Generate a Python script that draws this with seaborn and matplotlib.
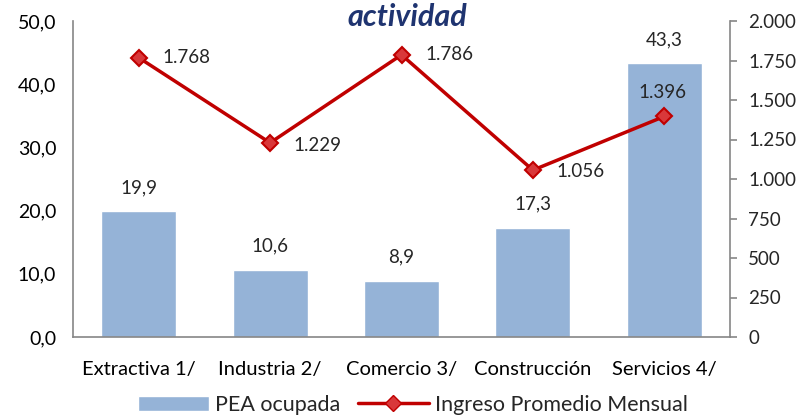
import numpy as np
import matplotlib
matplotlib.use("Agg")
import matplotlib.pyplot as plt
import seaborn as sns
from matplotlib.ticker import FuncFormatter
from matplotlib.patches import Patch
from matplotlib.lines import Line2D

categorias = ["Extractiva 1/", "Industria 2/", "Comercio 3/", "Construcción", "Servicios 4/"]
pea_ocupada = [19.9, 10.6, 8.9, 17.3, 43.3]
ingreso = [1768, 1229, 1786, 1056, 1396]

sns.set_theme(style="white")
plt.rcParams["font.family"] = ["Lato", "DejaVu Sans"]

fig = plt.figure(figsize=(8.1, 4.16), dpi=100)
ax = fig.add_axes([73 / 810, 1 - 337 / 416, 657 / 810, 316 / 416])

x = np.arange(len(categorias))
sns.barplot(x=categorias, y=pea_ocupada, color="#95B3D7", saturation=1,
            width=0.57, ax=ax)
ax.set_ylim(0, 50)
ax.set_xlim(-0.5, 4.5)
ax.set_yticks(np.arange(0, 51, 10))
ax.yaxis.set_major_formatter(FuncFormatter(lambda v, p: f"{v:.1f}".replace(".", ",")))
ax.tick_params(axis="y", length=0, labelsize=14, pad=12, colors="#000000")
ax.tick_params(axis="x", length=0, labelsize=14.5, pad=17, colors="#000000")
for s in ["top", "right"]:
    ax.spines[s].set_visible(False)
for s in ["left", "bottom"]:
    ax.spines[s].set_color("#868686")
    ax.spines[s].set_linewidth(1.2)

for xi, v in zip(x, pea_ocupada):
    ax.annotate(f"{v:.1f}".replace(".", ","), (xi, v), xytext=(0, 11),
                textcoords="offset points", ha="center", va="bottom", fontsize=13.5)

ax2 = ax.twinx()
sns.lineplot(x=x, y=ingreso, ax=ax2, color="#C00000", linewidth=2.5,
             marker="D", markersize=8, markerfacecolor="#D9383A",
             markeredgecolor="#C00000", markeredgewidth=1.5, label=None)
ax2.set_ylim(0, 2000)
ax2.set_yticks(np.arange(0, 2001, 250))
ax2.yaxis.set_major_formatter(FuncFormatter(lambda v, p: f"{int(v):,}".replace(",", ".")))
ax2.tick_params(axis="y", length=5, width=1.2, color="#868686", labelsize=13.5, pad=8)
for s in ["top", "left", "bottom"]:
    ax2.spines[s].set_visible(False)
ax2.spines["right"].set_color("#868686")
ax2.spines["right"].set_linewidth(1.2)
ax2.set_xlim(-0.5, 4.5)

offsets = [(17, 0, "left", "center"), (17, -2, "left", "center"),
           (17, 0, "left", "center"), (17, -1, "left", "center"),
           (-1, 11, "center", "bottom")]
for xi, v, (dx, dy, ha, va) in zip(x, ingreso, offsets):
    ax2.annotate(f"{v:,}".replace(",", "."), (xi, v), xytext=(dx, dy),
                 textcoords="offset points", ha=ha, va=va, fontsize=13.5)

fig.text(0.503, 1 - 17 / 416, "actividad", ha="center", va="center",
         fontsize=22, fontweight="bold", fontstyle="italic", color="#1F3470")

handles = [Patch(facecolor="#95B3D7", label="PEA ocupada"),
           Line2D([0], [0], color="#C00000", linewidth=2.5, marker="D", markersize=8,
                  markerfacecolor="#D9383A", markeredgecolor="#C00000",
                  label="Ingreso Promedio Mensual")]
fig.legend(handles=handles, loc="center", bbox_to_anchor=(0.51, 1 - 405 / 416),
           ncol=2, frameon=False, fontsize=15.5, handlelength=3.3, columnspacing=0.8,
           handletextpad=0.3)

fig.savefig("out.png", dpi=100)
